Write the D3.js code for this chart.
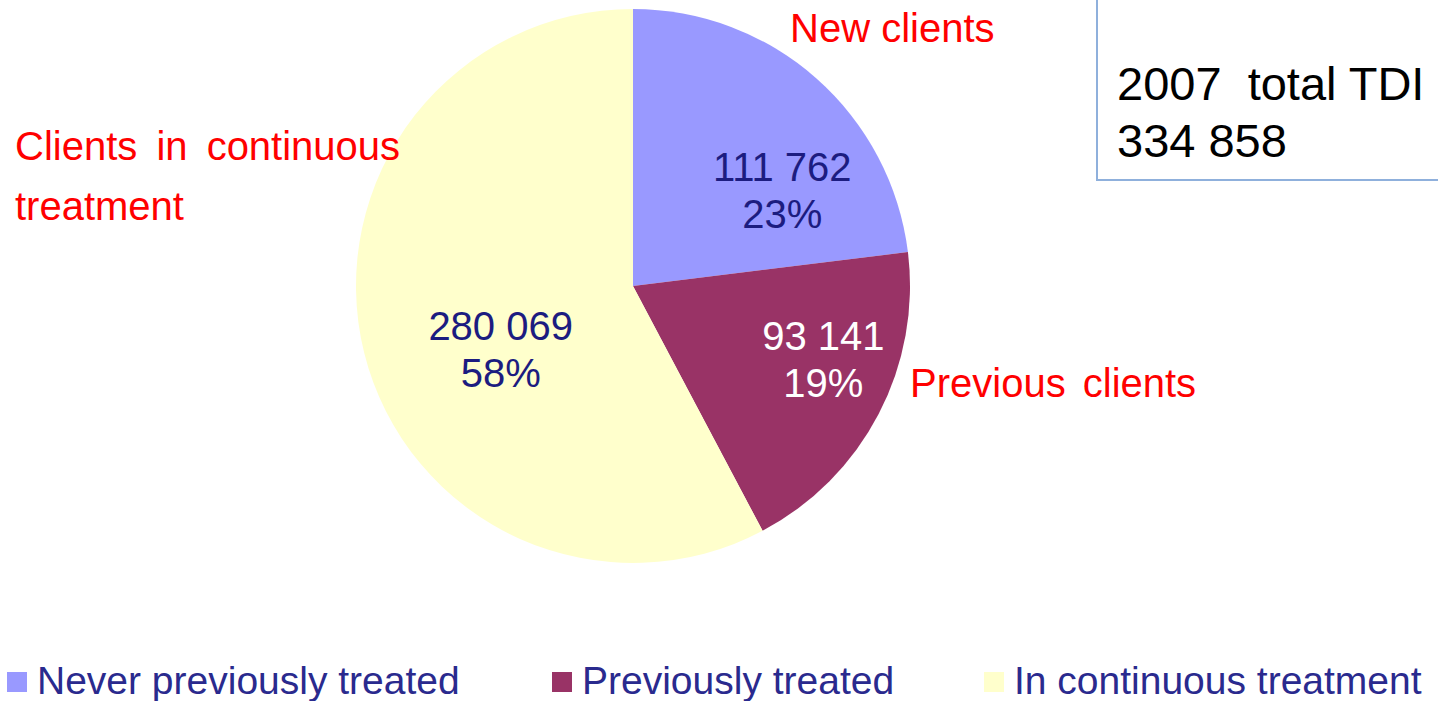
<!DOCTYPE html>
<html>
<head>
<meta charset="utf-8">
<script src="https://cdn.jsdelivr.net/npm/d3@7"></script>
<style>
  html, body { margin: 0; padding: 0; background: #fff; }
  svg { display: block; font-family: "Liberation Sans", Arial, sans-serif; }
</style>
</head>
<body>
<svg id="chart" width="1438" height="701"></svg>
<script>
// data
var categories = ["Never previously treated", "Previously treated", "In continuous treatment"];
var values = [111762, 93141, 280069];
var percentLabels = ["23%", "19%", "58%"];
var valueLabels = ["111 762", "93 141", "280 069"];
var calloutLines = [["New clients"], ["Previous clients"], ["Clients in continuous", "treatment"]];
var boxLines = ["2007  total TDI", "334 858"];

// styles
var colors = ["#9999ff", "#993366", "#ffffcc"];
var valueColors = ["#1c1c80", "#ffffff", "#1c1c80"];
// label placement: angle (deg, clockwise from top) and radius from pie centre
var labelPolar = [[58.0, 176], [111.8, 205], [243.4, 148]];

var svg = d3.select("#chart");
var cx = 633, cy = 286, radius = 277;

var pie = d3.pie().sort(null).value(function(d) { return d; });
var arc = d3.arc().innerRadius(0).outerRadius(radius);
var arcs = pie(values);

var g = svg.append("g").attr("transform", "translate(" + cx + "," + cy + ")");

g.selectAll("path.slice")
    .data(arcs)
    .enter().append("path")
    .attr("class", "slice")
    .attr("d", arc)
    .attr("fill", function(d, i) { return colors[i]; });

// value + percent labels
var lbl = g.selectAll("text.val")
    .data(arcs)
    .enter().append("text")
    .attr("class", "val")
    .attr("text-anchor", "middle")
    .style("font-size", "40px")
    .attr("fill", function(d, i) { return valueColors[i]; });

lbl.each(function(d, i) {
    var a = labelPolar[i][0] * Math.PI / 180, r = labelPolar[i][1];
    var x = r * Math.sin(a), y = -r * Math.cos(a);
    var t = d3.select(this);
    t.append("tspan").attr("x", x).attr("y", y - 12).text(valueLabels[i]);
    t.append("tspan").attr("x", x).attr("y", y + 35).text(percentLabels[i]);
});

// red callouts
var callPos = [
    {x: 790, y: 42, ws: 0},
    {x: 910, y: 397, ws: 6},
    {x: 15, y: 160, ws: 8}
];
calloutLines.forEach(function(lines, i) {
    var t = svg.append("text")
        .attr("fill", "#ff0000")
        .style("font-size", "40px")
        .style("word-spacing", callPos[i].ws + "px");
    lines.forEach(function(s, j) {
        t.append("tspan")
            .attr("x", callPos[i].x)
            .attr("y", callPos[i].y + j * 60)
            .text(s);
    });
});

// total box
svg.append("rect")
    .attr("x", 1097).attr("y", -5)
    .attr("width", 360).attr("height", 185)
    .attr("fill", "none")
    .attr("stroke", "#8fb0dc")
    .attr("stroke-width", 2);

svg.append("text")
    .attr("fill", "#000")
    .style("font-size", "47px")
    .selectAll("tspan")
    .data(boxLines)
    .enter().append("tspan")
    .attr("x", 1117)
    .attr("y", function(d, i) { return 100 + i * 57; })
    .style("white-space", "pre")
    .attr("xml:space", "preserve")
    .text(function(d) { return d; });

// legend
var legendX = d3.scaleOrdinal().domain(categories).range([7, 552, 984]);
var legend = svg.selectAll("g.leg")
    .data(categories)
    .enter().append("g")
    .attr("class", "leg")
    .attr("transform", function(d) { return "translate(" + legendX(d) + ",0)"; });

legend.append("rect")
    .attr("x", 0).attr("y", 672)
    .attr("width", 20).attr("height", 20)
    .attr("fill", function(d, i) { return colors[i]; });

legend.append("text")
    .attr("x", 30).attr("y", 694)
    .attr("fill", "#2a2a8e")
    .style("font-size", "39px")
    .text(function(d) { return d; });
</script>
</body>
</html>
